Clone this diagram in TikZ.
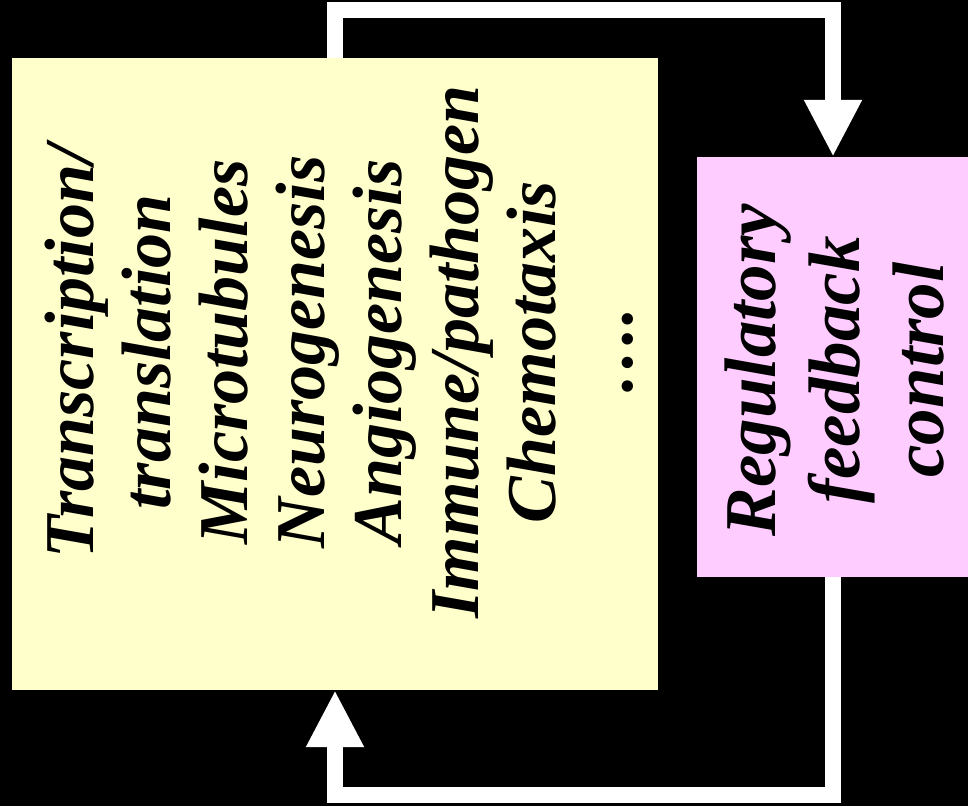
\documentclass[tikz,border=0pt]{standalone}
\usepackage{fontspec}
\setmainfont{Liberation Serif}
\usetikzlibrary{arrows.meta}
\definecolor{procyellow}{HTML}{FFFFCC}
\definecolor{regpink}{HTML}{FFCCFF}

\begin{document}
\begin{tikzpicture}[x=1pt, y=-1pt,
    box/.style={rectangle, inner sep=0pt},
    boxtext/.style={rotate=90, align=center, inner sep=0pt, font=\bfseries\itshape},
    pipe/.style={draw=white, line width=16pt, -{Triangle[width=54pt, length=57pt]}}]
            \useasboundingbox (0,0) rectangle (968,806);
            \fill[black] (0,0) rectangle (968,806);
            \node[box, fill=procyellow, minimum width=646pt, minimum height=632pt] (proc) at (335,374) {};
            \node[box, fill=regpink, minimum width=272pt, minimum height=420pt] (reg) at (833,367) {};
            \node[boxtext, font=\bfseries\itshape\fontsize{70}{77}\selectfont] (proclist) at (339,352)
                {Transcription/\\translation\\Microtubules\\Neurogenesis\\Angiogenesis\\Immune/pathogen\\Chemotaxis\\\dots.};
            \node[boxtext, font=\bfseries\itshape\fontsize{73}{84}\selectfont] (regtext) at (835,370)
                {Regulatory\\feedback\\control};
            \draw[pipe] (proc.north) -- ++(0,-48) -| (reg.north);
            \draw[pipe] (reg.south) -- ++(0,218) -| (proc.south);
        \end{tikzpicture}
\end{document}
